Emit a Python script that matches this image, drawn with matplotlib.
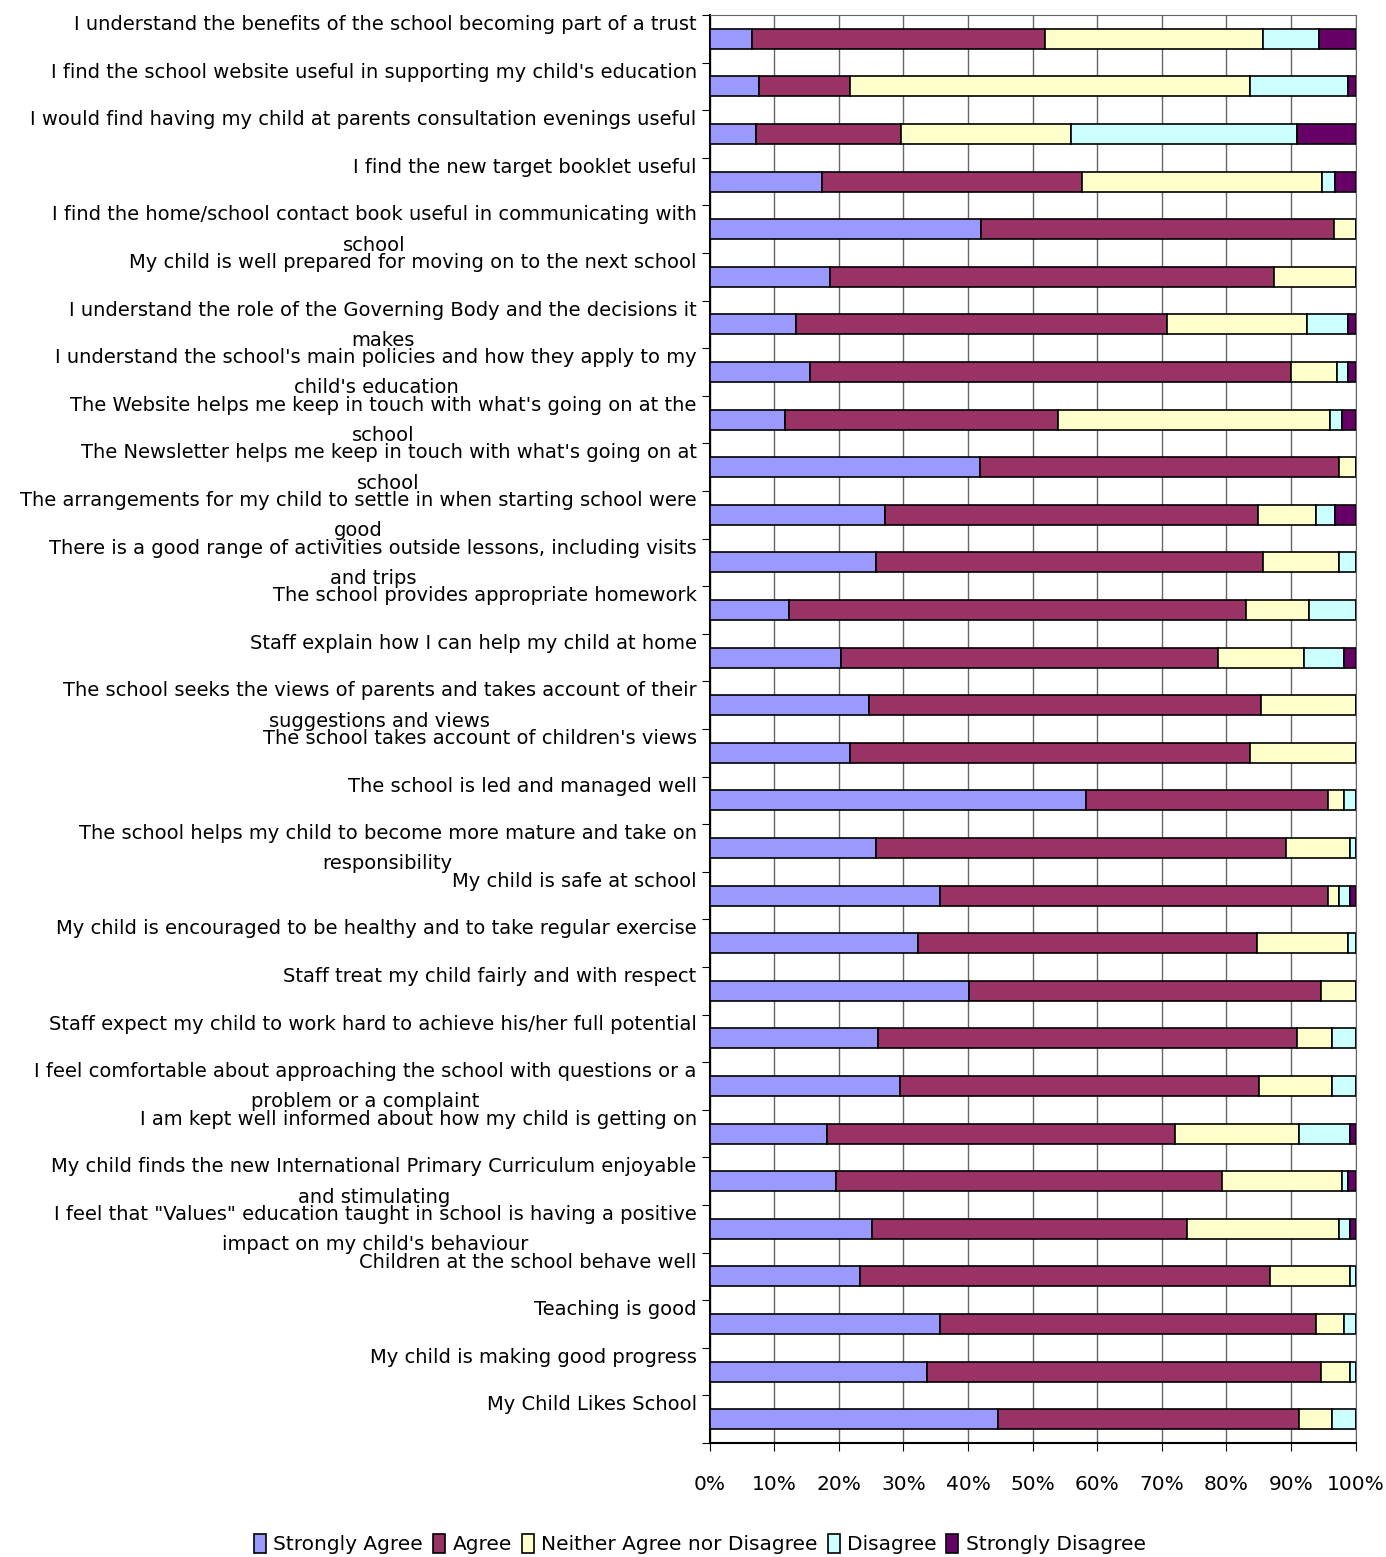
import matplotlib
matplotlib.use("Agg")
import matplotlib.pyplot as plt
import numpy as np

# questions, top to bottom as shown
questions = [
    "I understand the benefits of the school becoming part of a trust",
    "I find the school website useful in supporting my child's education",
    "I would find having my child at parents consultation evenings useful",
    "I find the new target booklet useful",
    "I find the home/school contact book useful in communicating with\nschool",
    "My child is well prepared for moving on to the next school",
    "I understand the role of the Governing Body and the decisions it\nmakes",
    "I understand the school's main policies and how they apply to my\nchild's education",
    "The Website helps me keep in touch with what's going on at the\nschool",
    "The Newsletter helps me keep in touch with what's going on at\nschool",
    "The arrangements for my child to settle in when starting school were\ngood",
    "There is a good range of activities outside lessons, including visits\nand trips",
    "The school provides appropriate homework",
    "Staff explain how I can help my child at home",
    "The school seeks the views of parents and takes account of their\nsuggestions and views",
    "The school takes account of children's views",
    "The school is led and managed well",
    "The school helps my child to become more mature and take on\nresponsibility",
    "My child is safe at school",
    "My child is encouraged to be healthy and to take regular exercise",
    "Staff treat my child fairly and with respect",
    "Staff expect my child to work hard to achieve his/her full potential",
    "I feel comfortable about approaching the school with questions or a\nproblem or a complaint",
    "I am kept well informed about how my child is getting on",
    "My child finds the new International Primary Curriculum enjoyable\nand stimulating",
    "I feel that \"Values\" education taught in school is having a positive\nimpact on my child's behaviour",
    "Children at the school behave well",
    "Teaching is good",
    "My child is making good progress",
    "My Child Likes School",
]

strongly_agree = [6.6, 7.7, 7.2, 17.4, 42.0, 18.7, 13.3, 15.6, 11.7, 41.8,
                  27.2, 25.8, 12.3, 20.3, 24.7, 21.8, 58.2, 25.8, 35.6, 32.3,
                  40.2, 26.1, 29.4, 18.1, 19.5, 25.2, 23.3, 35.6, 33.6, 44.6]
agree = [45.4, 14.1, 22.5, 40.3, 54.7, 68.7, 57.5, 74.4, 42.2, 55.6,
         57.7, 59.9, 70.8, 58.4, 60.6, 61.8, 37.5, 63.4, 60.1, 52.4,
         54.4, 64.9, 55.7, 53.9, 59.9, 48.7, 63.4, 58.3, 61.0, 46.6]
neither = [33.6, 61.8, 26.2, 37.1, 3.3, 12.6, 21.7, 7.2, 42.2, 2.6,
           9.0, 11.7, 9.7, 13.4, 14.7, 16.4, 2.5, 10.0, 1.7, 14.2,
           5.4, 5.4, 11.3, 19.2, 18.5, 23.5, 12.5, 4.3, 4.6, 5.2]
disagree = [8.8, 15.3, 35.1, 2.1, 0, 0, 6.4, 1.7, 1.8, 0,
            3.0, 2.6, 7.2, 6.1, 0, 0, 1.8, 0.8, 1.8, 1.1,
            0, 3.6, 3.6, 8.0, 1.0, 1.8, 0.8, 1.8, 0.8, 3.6]
strongly_disagree = [5.6, 1.1, 9.0, 3.1, 0, 0, 1.1, 1.1, 2.1, 0,
                     3.1, 0, 0, 1.8, 0, 0, 0, 0, 0.8, 0,
                     0, 0, 0, 0.8, 1.1, 0.8, 0, 0, 0, 0]

series = ["Strongly Agree", "Agree", "Neither Agree nor Disagree",
          "Disagree", "Strongly Disagree"]
colors = ["#9999FF", "#993366", "#FFFFCC", "#CCFFFF", "#660066"]

data = np.array([strongly_agree, agree, neither, disagree, strongly_disagree])
# normalise each row to 100%
data = data / data.sum(axis=0) * 100

plt.rcParams['font.family'] = ['DejaVu Sans']
fig = plt.figure(figsize=(13.86, 15.57), dpi=100)
ax = fig.add_axes([0.512, 0.0732, 0.466, 0.9172])

y = np.arange(len(questions))
left = np.zeros(len(questions))
for vals, name, col in zip(data, series, colors):
    ax.barh(y, vals, left=left, height=0.42, color=col, edgecolor='black',
            linewidth=1.2, label=name, zorder=3)
    left += vals

ax.set_xlim(0, 100)
ax.set_ylim(len(questions) - 0.5, -0.5)
ax.set_xticks(np.arange(0, 101, 10))
ax.set_xticklabels([f"{v}%" for v in range(0, 101, 10)], fontsize=14.5)
ax.tick_params(axis='x', direction='out', length=6, pad=17, color='black')
ax.xaxis.grid(True, color='#666666', linewidth=1, zorder=0)

ax.set_yticks(np.arange(len(questions) + 1) - 0.5)
ax.set_yticklabels([])
ax.tick_params(axis='y', direction='out', length=6, color='black')

for s in ['top', 'right']:
    ax.spines[s].set_color('#666666')
for s in ['left', 'bottom']:
    ax.spines[s].set_linewidth(1.5)

# labels sit at the top of each row, like the original
for i, q in enumerate(questions):
    ax.text(-0.02, i - 0.5, q, transform=ax.get_yaxis_transform(),
            ha='right', va='top', multialignment='center', fontsize=14,
            linespacing=1.75)

fig.legend(loc='lower center', ncol=5, bbox_to_anchor=(0.505, -0.01),
           frameon=False, fontsize=14.5, handlelength=0.6, handleheight=1.1,
           handletextpad=0.35, columnspacing=0.5)

plt.savefig('out.png', dpi=100)
